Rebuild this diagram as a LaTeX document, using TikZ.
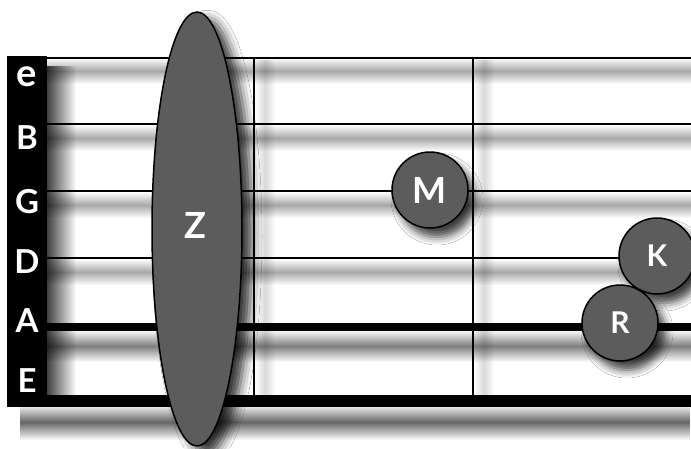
\documentclass[tikz,border=0pt]{standalone}
\usepackage{fontspec}
\setsansfont{Lato}
\usetikzlibrary{shadows.blur,shapes.geometric,fadings}
\definecolor{dotgray}{RGB}{92,92,92}
\tikzfading[name=vband, top color=transparent!100, bottom color=transparent!100, middle color=transparent!0]
\tikzfading[name=hband, left color=transparent!100, right color=transparent!100, middle color=transparent!0]
\tikzfading[name=hfade, left color=transparent!0, right color=transparent!100]
\begin{document}
\begin{tikzpicture}[x=1pt,y=-1pt,
  sshadow/.style={fill=black, opacity=0.34, path fading=vband},
  fshadow/.style={fill=black, opacity=0.15, path fading=hband},
  dot/.style={circle, draw=black, line width=1.5pt, fill=dotgray, minimum size=76pt, inner sep=0pt, text=white,
    font=\sffamily\bfseries\fontsize{30}{30}\selectfont,
    blur shadow={shadow xshift=7pt, shadow yshift=-9pt, shadow blur radius=8pt, shadow opacity=75}},
  lab/.style={text=white, inner sep=0pt, font=\sffamily\bfseries\fontsize{33}{33}\selectfont}]
\useasboundingbox[fill=white] (0,0) rectangle (691,448);
% shadows of strings and frets
\fill[sshadow] (30,58) rectangle (691,84);
\fill[sshadow] (47,125) rectangle (691,151);
\fill[sshadow] (47,192) rectangle (691,218);
\fill[sshadow] (47,259) rectangle (691,285);
\fill[sshadow, opacity=0.5] (47,330) rectangle (691,362);
\fill[sshadow, opacity=0.6] (20,404) rectangle (691,440);
\fill[fshadow] (255,60) rectangle (275,400);
\fill[fshadow] (474,60) rectangle (494,400);
% strings
\fill[black] (7,56.5) rectangle (691,58.5);
\fill[black] (47,123) rectangle (691,125);
\fill[black] (47,190) rectangle (691,192);
\fill[black] (47,257) rectangle (691,259);
\fill[black] (47,323) rectangle (691,331);
\fill[black] (7,395) rectangle (691,407);
% frets
\fill[black] (252.5,57) rectangle (254.5,395);
\fill[black] (472,57) rectangle (474,395);
% nut / label bar with its shadow
\fill[black, opacity=0.75, path fading=hfade] (47,66) rectangle (76,395);
\fill[black] (7,56) rectangle (47,407);
\node[lab, font=\sffamily\bfseries\fontsize{38}{38}\selectfont] (le) at (27,77) {e};
\node[lab] (lB) at (27,138) {B};
\node[lab] (lG) at (27,202) {G};
\node[lab] (lD) at (27,262) {D};
\node[lab] (lA) at (27,321) {A};
\node[lab] (lE) at (27,381) {E};
% barre
\node[ellipse, draw=black, line width=1.5pt, fill=dotgray, minimum width=90pt, minimum height=434pt, inner sep=0pt,
  blur shadow={shadow xshift=10pt, shadow yshift=-8pt, shadow blur radius=10pt, shadow opacity=80}] (Z) at (197,229) {};
\node[lab, font=\sffamily\bfseries\fontsize{36}{36}\selectfont] (Zl) at (195,225) {Z};
% fingers
\node[dot, font=\sffamily\bfseries\fontsize{36}{36}\selectfont] (M) at (430,190) {M};
\node[dot] (K) at (657,256) {K};
\node[dot] (R) at (620,323) {R};
\end{tikzpicture}
\end{document}
